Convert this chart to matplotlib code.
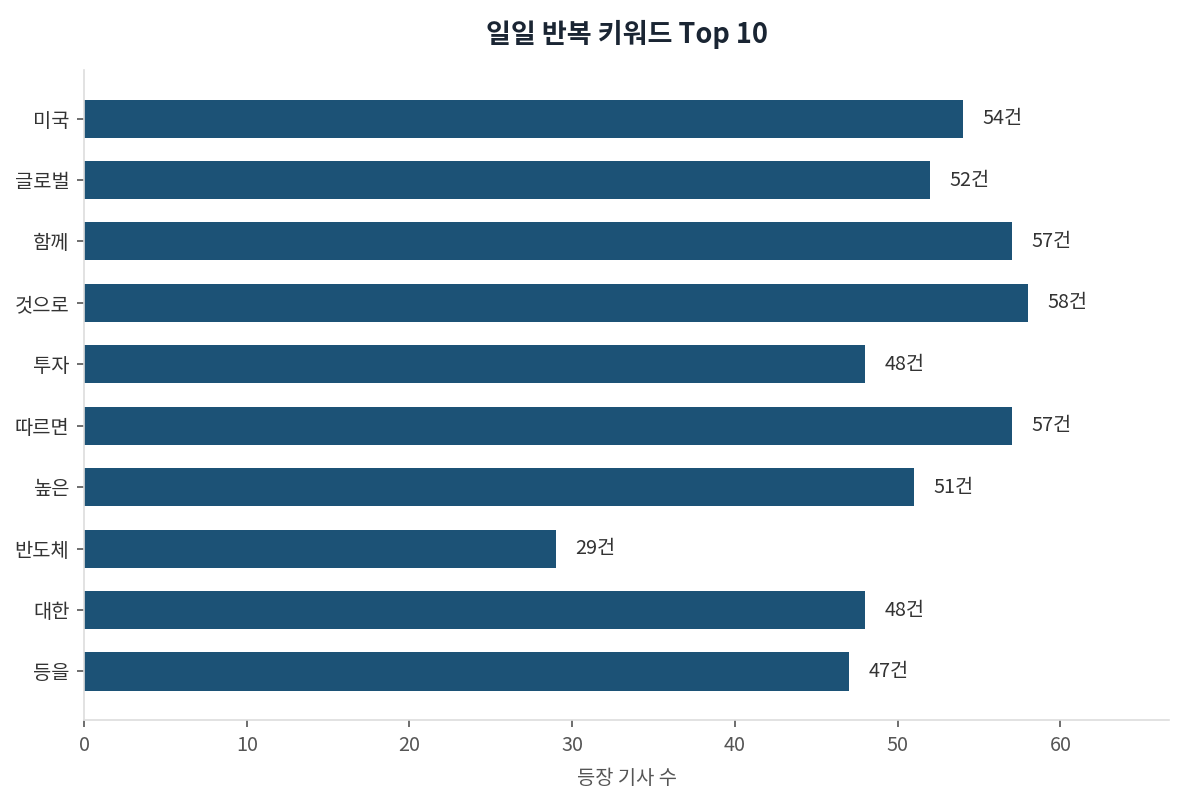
import matplotlib.pyplot as plt

plt.rcParams['font.family'] = ['Noto Sans CJK KR', 'DejaVu Sans']

keywords = ['미국', '글로벌', '함께', '것으로', '투자', '따르면', '높은', '반도체', '대한', '등을']
counts = [54, 52, 57, 58, 48, 57, 51, 29, 48, 47]

fig = plt.figure(figsize=(7.9, 5.4), dpi=150)
ax = fig.add_axes([0.0709, 0.111, 0.916, 0.8026])

bars = ax.barh(keywords, counts, height=0.62, color='#1c5276')
ax.invert_yaxis()
ax.set_xlim(0, max(counts) * 1.15)

for b, v in zip(bars, counts):
    ax.text(v + 1.2, b.get_y() + b.get_height() / 2, f'{v}건',
            va='center', ha='left', fontsize=9.5, color='#333333')

ax.set_title('일일 반복 키워드 Top 10', fontsize=13, fontweight='bold',
             color='#1a2533', pad=13)
ax.set_xlabel('등장 기사 수', fontsize=9.5, color='#555555', labelpad=6)

for side in ['top', 'right']:
    ax.spines[side].set_visible(False)
for side in ['left', 'bottom']:
    ax.spines[side].set_color('#dddddd')
ax.tick_params(axis='both', labelsize=9.5, colors='#555555')
ax.tick_params(axis='both', color='#555555')
for lbl in ax.get_yticklabels():
    lbl.set_color('#333333')

fig.savefig('out.png', dpi=150)
